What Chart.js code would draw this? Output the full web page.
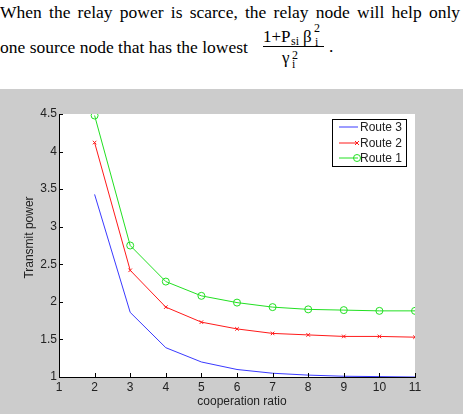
<!DOCTYPE html>
<html>
<head>
<meta charset="utf-8">
<script src="https://cdn.jsdelivr.net/npm/chart.js@4/dist/chart.umd.min.js"></script>
<style>
  html, body { margin: 0; padding: 0; background: #fff; width: 463px; height: 414px; overflow: hidden; }
  .t { position: absolute; font-family: "Liberation Serif", "Times New Roman", serif; color: #000; white-space: nowrap; line-height: 1; }
  #l1 { left: 0; top: 3.6px; width: 460px; font-size: 17.5px; line-height: 17.5px; text-align: justify; text-align-last: justify; }
  #l2 { left: 0; top: 38.8px; font-size: 17.5px; line-height: 17.5px; }
  #bar { position: absolute; left: 263px; top: 46px; width: 61px; height: 1px; background: #000; }
  #wrap { position: absolute; left: 0; top: 89px; width: 463px; height: 325px; }
</style>
</head>
<body>
<div class="t" id="l1">When the relay power is scarce, the relay node will help only</div>
<div class="t" id="l2">one source node that has the lowest</div>
<span class="t" style="left:263px;top:27.8px;font-size:17px;">1+P</span>
<span class="t" style="left:291px;top:35px;font-size:12px;">si</span>
<span class="t" style="left:303px;top:27.8px;font-size:17px;">β</span>
<span class="t" style="left:314px;top:22px;font-size:12px;">2</span>
<span class="t" style="left:315px;top:36px;font-size:12px;">i</span>
<div id="bar"></div>
<span class="t" style="left:282px;top:48.8px;font-size:17px;">γ</span>
<span class="t" style="left:292px;top:49px;font-size:12px;">2</span>
<span class="t" style="left:292px;top:58px;font-size:12px;">i</span>
<span class="t" style="left:329px;top:38.3px;font-size:17.5px;">.</span>
<div id="wrap"><canvas id="c" width="463" height="325"></canvas></div>
<script>
// ---- data ----
const cooperationRatio = [2, 3, 4, 5, 6, 7, 8, 9, 10, 11];
const route1 = [4.48, 2.75, 2.27, 2.08, 1.99, 1.93, 1.90, 1.89, 1.88, 1.88];
const route2 = [4.12, 2.42, 1.93, 1.73, 1.64, 1.58, 1.56, 1.54, 1.54, 1.53];
const route3 = [3.43, 1.86, 1.39, 1.20, 1.10, 1.05, 1.025, 1.01, 1.005, 1.0];
const seriesNames = ['Route 3', 'Route 2', 'Route 1'];
const xTickValues = [1, 2, 3, 4, 5, 6, 7, 8, 9, 10, 11];
const xTickLabels = ['1', '2', '3', '4', '5', '6', '7', '8', '9', '10', '11'];
const yTickValues = [1, 1.5, 2, 2.5, 3, 3.5, 4, 4.5];
const yTickLabels = ['1', '1.5', '2', '2.5', '3', '3.5', '4', '4.5'];
const xTitle = 'cooperation ratio';
const yTitle = 'Transmit power';

const pts = arr => cooperationRatio.map((x, i) => ({ x: x, y: arr[i] }));
const FONT = '"Liberation Sans", Arial, sans-serif';
const TXT = '#222';

const bgPlugin = {
  id: 'bg',
  beforeDraw(chart) {
    const { ctx, chartArea: a } = chart;
    ctx.save();
    ctx.fillStyle = '#cccccc';
    ctx.fillRect(0, 0, chart.width, chart.height);
    ctx.fillStyle = '#ffffff';
    ctx.fillRect(a.left, a.top, a.right - a.left, a.bottom - a.top);
    ctx.restore();
  }
};

const decorPlugin = {
  id: 'decor',
  afterDraw(chart) {
    const { ctx, chartArea: a, scales } = chart;
    ctx.save();
    // inward tick marks
    ctx.strokeStyle = '#000';
    ctx.lineWidth = 1;
    ctx.beginPath();
    scales.x.ticks.forEach(t => {
      const px = Math.round(scales.x.getPixelForValue(t.value)) + 0.5;
      ctx.moveTo(px, a.bottom);
      ctx.lineTo(px, a.bottom - 4);
    });
    scales.y.ticks.forEach(t => {
      const py = Math.round(scales.y.getPixelForValue(t.value)) + 0.5;
      ctx.moveTo(a.left, py);
      ctx.lineTo(a.left + 4, py);
    });
    ctx.stroke();
    // axis titles
    ctx.fillStyle = TXT;
    ctx.font = '12px ' + FONT;
    ctx.textAlign = 'center';
    ctx.textBaseline = 'middle';
    ctx.fillText(xTitle, (a.left + a.right) / 2 + 5, a.bottom + 25);
    ctx.save();
    ctx.translate(30, (a.top + a.bottom) / 2 - 8);
    ctx.rotate(-Math.PI / 2);
    ctx.fillText(yTitle, 0, 0);
    ctx.restore();
    // legend
    const bw = 74, bh = 47;
    const bx = a.right - 9 - bw, by = a.top + 5;
    ctx.fillStyle = '#fff';
    ctx.fillRect(bx, by, bw, bh);
    ctx.strokeStyle = '#000';
    ctx.lineWidth = 1;
    ctx.strokeRect(Math.round(bx) + 0.5, Math.round(by) + 0.5, bw, bh);
    const rows = [8, 24, 39];
    chart.data.datasets.forEach((ds, i) => {
      const y = by + rows[i];
      ctx.strokeStyle = ds.borderColor;
      ctx.lineWidth = 1;
      ctx.beginPath();
      ctx.moveTo(bx + 7, y);
      ctx.lineTo(bx + 26, y);
      ctx.stroke();
      if (ds.pointStyle === 'circle') {
        ctx.beginPath();
        ctx.arc(bx + 25, y, 3.5, 0, Math.PI * 2);
        ctx.stroke();
      } else if (ds.pointStyle === 'crossRot') {
        ctx.beginPath();
        ctx.moveTo(bx + 23, y - 2); ctx.lineTo(bx + 27, y + 2);
        ctx.moveTo(bx + 23, y + 2); ctx.lineTo(bx + 27, y - 2);
        ctx.stroke();
      }
      ctx.fillStyle = TXT;
      ctx.font = '12px ' + FONT;
      ctx.textAlign = 'left';
      ctx.textBaseline = 'middle';
      ctx.fillText(ds.label, bx + 28, y + 1);
    });
    ctx.restore();
  }
};

new Chart(document.getElementById('c'), {
  type: 'line',
  data: {
    datasets: [
      { label: seriesNames[0], data: pts(route3), borderColor: '#3a3aff', borderWidth: 1, pointRadius: 0, pointStyle: false, tension: 0 },
      { label: seriesNames[1], data: pts(route2), borderColor: '#ff1a1a', borderWidth: 1, pointRadius: 2.5, pointStyle: 'crossRot', pointBorderColor: '#ff1a1a', pointBackgroundColor: 'transparent', pointBorderWidth: 1, tension: 0 },
      { label: seriesNames[2], data: pts(route1), borderColor: '#22e022', borderWidth: 1, pointRadius: 3.5, pointStyle: 'circle', pointBorderColor: '#22e022', pointBackgroundColor: 'transparent', pointBorderWidth: 1, tension: 0 }
    ]
  },
  options: {
    responsive: false,
    animation: false,
    devicePixelRatio: 1,
    layout: { padding: { top: 25, right: 48, left: 0, bottom: 0 } },
    plugins: { legend: { display: false }, tooltip: { enabled: false } },
    elements: { line: { fill: false } },
    scales: {
      x: {
        type: 'linear', min: 1, max: 11,
        afterFit(s) { s.height = 37; },
        afterBuildTicks(s) { s.ticks = xTickValues.map(v => ({ value: v })); },
        grid: { display: true, drawOnChartArea: false, drawTicks: false },
        border: { display: true, color: '#000', width: 1 },
        ticks: {
          color: TXT, font: { family: FONT, size: 12 }, padding: 3, maxRotation: 0, autoSkip: false,
          callback: (v) => { const i = xTickValues.indexOf(v); return i >= 0 ? xTickLabels[i] : ''; }
        }
      },
      y: {
        type: 'linear', min: 1, max: 4.5,
        afterFit(s) { s.width = 59; },
        afterBuildTicks(s) { s.ticks = yTickValues.map(v => ({ value: v })); },
        grid: { display: true, drawOnChartArea: false, drawTicks: false },
        border: { display: true, color: '#000', width: 1 },
        ticks: {
          color: TXT, font: { family: FONT, size: 12 }, padding: 2, autoSkip: false,
          callback: (v) => { const i = yTickValues.indexOf(v); return i >= 0 ? yTickLabels[i] : ''; }
        }
      }
    }
  },
  plugins: [bgPlugin, decorPlugin]
});
</script>
</body>
</html>
